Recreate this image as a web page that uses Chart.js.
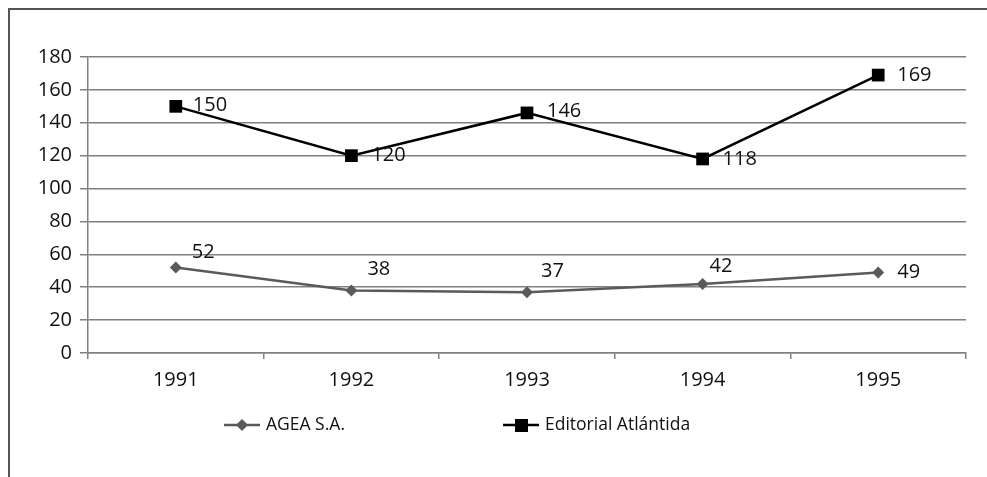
<!DOCTYPE html>
<html>
<head>
<meta charset="utf-8">
<script src="https://cdn.jsdelivr.net/npm/chart.js@4"></script>
<style>
  html,body{margin:0;padding:0;background:#fff;}
  #wrap{position:relative;width:987px;height:477px;}
</style>
</head>
<body>
<div id="wrap"><canvas id="chart" width="987" height="477"></canvas></div>
<script>
const years = ["1991","1992","1993","1994","1995"];
const agea = [52,38,37,42,49];
const atlantida = [150,120,146,118,169];
const yTicks = [0,20,40,60,80,100,120,140,160,180];

const FONT = "'Open Sans', sans-serif";
const GRAY = "#5a5a5a";

// label offsets (dx, dy) from each point, as placed in the original
const ageaOff = [[16,-15],[16,-21],[14,-21],[7,-18],[19,0]];
const atlOff = [[17,-1],[20,0],[20,-2],[20,0],[19,0]];

// frame, value labels and legend drawn on the canvas
const extras = {
  id:"extras",
  beforeDraw(chart){
    const c = chart.ctx;
    c.save();
    c.strokeStyle = "#555";
    c.lineWidth = 2;
    c.beginPath();
    c.moveTo(9, 477);
    c.lineTo(9, 9);
    c.lineTo(987, 9);
    c.stroke();
    c.restore();
  },
  afterDatasetsDraw(chart){
    const c = chart.ctx;
    c.save();
    c.font = "20px " + FONT;
    c.fillStyle = "#111";
    c.textBaseline = "middle";
    c.textAlign = "left";
    chart.getDatasetMeta(0).data.forEach((p,i)=>{
      c.fillText(agea[i], p.x+ageaOff[i][0], p.y+ageaOff[i][1]);
    });
    chart.getDatasetMeta(1).data.forEach((p,i)=>{
      c.fillText(atlantida[i], p.x+atlOff[i][0], p.y+atlOff[i][1]);
    });
    // legend
    const ly = 425;
    c.lineWidth = 2.5;
    c.strokeStyle = GRAY;
    c.beginPath(); c.moveTo(224,ly); c.lineTo(260,ly); c.stroke();
    c.fillStyle = GRAY;
    c.beginPath();
    c.moveTo(242,ly-6); c.lineTo(248,ly); c.lineTo(242,ly+6); c.lineTo(236,ly); c.closePath(); c.fill();
    c.strokeStyle = "#000";
    c.beginPath(); c.moveTo(503,ly); c.lineTo(539,ly); c.stroke();
    c.fillStyle = "#000";
    c.fillRect(515,ly-6,13,13);
    c.fillStyle = "#111";
    c.font = "17.5px " + FONT;
    c.fillText("AGEA S.A.", 266, ly);
    c.fillText("Editorial Atlántida", 545, ly);
    c.restore();
  }
};

new Chart(document.getElementById("chart"),{
  type:"line",
  data:{
    labels:years,
    datasets:[
      {label:"AGEA S.A.", data:agea, borderColor:GRAY, backgroundColor:GRAY,
       borderWidth:2.5, pointStyle:"rectRot", pointRadius:6, pointBorderWidth:0, tension:0},
      {label:"Editorial Atlántida", data:atlantida, borderColor:"#000", backgroundColor:"#000",
       borderWidth:2.5, pointStyle:"rect", pointRadius:9, pointBorderWidth:0, tension:0}
    ]
  },
  options:{
    responsive:false,
    animation:false,
    layout:{padding:{top:57,right:21,bottom:84,left:0}},
    plugins:{legend:{display:false},tooltip:{enabled:false}},
    scales:{
      x:{
        offset:true,
        grid:{offset:true,drawOnChartArea:false,color:"#808080",tickLength:6,lineWidth:1.5},
        border:{color:"#808080",width:1.5},
        ticks:{font:{family:FONT,size:20},color:"#111",padding:9},
        afterFit(s){ s.height = 40; }
      },
      y:{
        min:0,max:180,
        afterBuildTicks(s){ s.ticks = yTicks.map(v=>({value:v})); },
        grid:{color:"#808080",lineWidth:1.5,tickLength:8},
        border:{color:"#808080",width:1.5},
        ticks:{font:{family:FONT,size:20},color:"#111",padding:8},
        afterFit(s){ s.width = 88; }
      }
    }
  },
  plugins:[extras]
});
</script>
</body>
</html>
